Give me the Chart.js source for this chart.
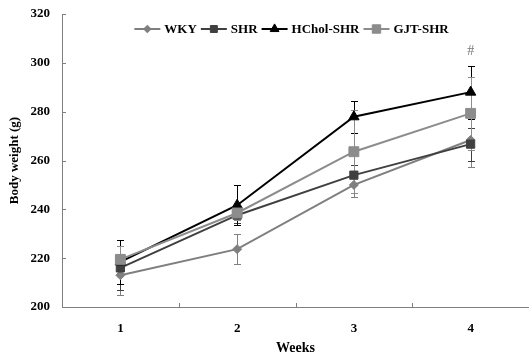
<!DOCTYPE html>
<html>
<head>
<meta charset="utf-8">
<script src="https://cdn.jsdelivr.net/npm/chart.js@4/dist/chart.umd.min.js"></script>
<style>
  html, body { margin: 0; padding: 0; background: #fff; overflow: hidden; }
  #wrap { width: 529px; height: 355px; position: relative; }
  #wrap canvas { display: block; }
</style>
</head>
<body>
<div id="wrap"><canvas id="bw"></canvas></div>
<script>
// body weight (g) per group, mean and SD
const WEEKS = ['1', '2', '3', '4'];
const WKY = [213, 223.7, 250, 268.4];
const WKY_SD = [8, 6, 5, 11];
const SHR = [216, 237.6, 254, 266.7];
const SHR_SD = [9, 3.4, 4, 6.7];
const HCHOL = [218.5, 241.7, 277.9, 288];
const HCHOL_SD = [9, 8.2, 6.6, 10.8];
const GJT = [219.5, 238.5, 263.6, 279.3];
const GJT_SD = [5.5, 3, 17, 15];
const Y_TICKS = [200, 220, 240, 260, 280, 300, 320];

const SERIF = '"Liberation Serif", "Times New Roman", serif';
const AXIS_GREY = '#7f7f7f';

function series(label, data, sd, color, style, radius, order) {
  return {
    label, data, sd, order,
    borderColor: color, backgroundColor: color,
    pointBackgroundColor: color, pointBorderColor: color,
    pointStyle: style, pointRadius: radius, pointBorderWidth: 1,
    borderWidth: 2, tension: 0
  };
}

// no automatic label padding, the plot box is fixed by hand
function noPad(s) {
  s.paddingTop = 0; s.paddingBottom = 0;
  s.paddingLeft = 0; s.paddingRight = 0;
}

// vertical SD bars with caps, under the markers
const errorBars = {
  id: 'errorBars',
  beforeDatasetsDraw(chart) {
    const { ctx } = chart;
    const y = chart.scales.y;
    chart.data.datasets.forEach((ds, i) => {
      const meta = chart.getDatasetMeta(i);
      ctx.save();
      ctx.strokeStyle = ds.borderColor;
      ctx.lineWidth = 1;
      meta.data.forEach((pt, j) => {
        const top = Math.round(y.getPixelForValue(ds.data[j] + ds.sd[j])) + 0.5;
        const bot = Math.round(y.getPixelForValue(ds.data[j] - ds.sd[j])) + 0.5;
        const px = Math.round(pt.x) + 0.5;
        ctx.beginPath();
        ctx.moveTo(px, top); ctx.lineTo(px, bot);
        ctx.moveTo(px - 3.5, top); ctx.lineTo(px + 3.5, top);
        ctx.moveTo(px - 3.5, bot); ctx.lineTo(px + 3.5, bot);
        ctx.stroke();
      });
      ctx.restore();
    });
  }
};

// short tick marks pointing into the plot, like the original
const insideTicks = {
  id: 'insideTicks',
  afterDraw(chart) {
    const { ctx, chartArea: a } = chart;
    const { x, y } = chart.scales;
    ctx.save();
    ctx.strokeStyle = AXIS_GREY;
    ctx.lineWidth = 1;
    ctx.beginPath();
    y.ticks.forEach(t => {
      const py = Math.round(y.getPixelForValue(t.value)) + 0.5;
      ctx.moveTo(a.left, py); ctx.lineTo(a.left + 4, py);
    });
    for (let i = 1; i < WEEKS.length; i++) {
      const px = Math.round((x.getPixelForValue(i - 1) + x.getPixelForValue(i)) / 2) + 0.5;
      ctx.moveTo(px, a.bottom); ctx.lineTo(px, a.bottom - 4);
    }
    ctx.stroke();
    ctx.restore();
  }
};

// legend row drawn inside the top of the plot
const topLegend = {
  id: 'topLegend',
  afterDraw(chart) {
    const { ctx, chartArea: a } = chart;
    ctx.save();
    ctx.font = 'bold 13px ' + SERIF;
    const items = chart.data.datasets.map(ds => ({ ds, w: ctx.measureText(ds.label).width }));
    const total = items.reduce((s, it) => s + 34 + it.w, 0) - 4;
    let lx = (a.left + a.right) / 2 - total / 2 - 4;
    const yc = 29;
    items.forEach(({ ds, w }) => {
      ctx.strokeStyle = ds.borderColor;
      ctx.lineWidth = ds.borderWidth;
      ctx.beginPath();
      ctx.moveTo(lx, yc); ctx.lineTo(lx + 26, yc);
      ctx.stroke();
      ctx.fillStyle = ds.pointBackgroundColor;
      ctx.lineWidth = 1;
      Chart.helpers.drawPoint(ctx, { pointStyle: ds.pointStyle, radius: ds.pointRadius * 0.85, rotation: 0, borderWidth: 1 }, lx + 13, yc);
      ctx.fillStyle = '#000';
      ctx.textAlign = 'left';
      ctx.textBaseline = 'middle';
      ctx.fillText(ds.label, lx + 30, yc + 1);
      lx += 34 + w;
    });
    ctx.restore();
  }
};

// significance mark above HChol-SHR at week 4
const hashMark = {
  id: 'hashMark',
  afterDatasetsDraw(chart) {
    const { ctx } = chart;
    const { x, y } = chart.scales;
    ctx.save();
    ctx.font = '14px ' + SERIF;
    ctx.fillStyle = '#777';
    ctx.textAlign = 'center';
    ctx.textBaseline = 'middle';
    ctx.fillText('#', x.getPixelForValue(3), y.getPixelForValue(HCHOL[3] + HCHOL_SD[3]) - 14);
    ctx.restore();
  }
};

new Chart(document.getElementById('bw'), {
  type: 'line',
  data: {
    labels: WEEKS,
    datasets: [
      series('WKY', WKY, WKY_SD, '#7f7f7f', 'rectRot', 4.5, 4),
      series('SHR', SHR, SHR_SD, '#404040', 'rect', 5.8, 3),
      series('HChol-SHR', HCHOL, HCHOL_SD, '#000000', 'triangle', 6, 2),
      series('GJT-SHR', GJT, GJT_SD, '#8c8c8c', 'rect', 7, 1)
    ]
  },
  options: {
    responsive: true,
    maintainAspectRatio: false,
    animation: false,
    layout: { autoPadding: false, padding: { top: 14, right: 0, bottom: 0, left: 0 } },
    plugins: { legend: { display: false }, tooltip: { enabled: false } },
    scales: {
      x: {
        offset: true,
        grid: { display: false, drawTicks: false },
        border: { color: AXIS_GREY, width: 1 },
        ticks: { color: '#000', padding: 14, font: { family: SERIF, size: 13, weight: 'bold' } },
        title: { display: true, text: 'Weeks', color: '#000', padding: { top: 0, bottom: -2 }, font: { family: SERIF, size: 14, weight: 'bold' } },
        afterFit(s) { s.height = 48; noPad(s); }
      },
      y: {
        min: 200, max: 320,
        afterBuildTicks(s) { s.ticks = Y_TICKS.map(v => ({ value: v })); },
        grid: { display: false, drawTicks: false },
        border: { color: AXIS_GREY, width: 1 },
        ticks: { color: '#000', padding: 12, font: { family: SERIF, size: 13, weight: 'bold' } },
        title: { display: true, text: 'Body weight (g)', color: '#000', padding: { top: 7, bottom: 0 }, font: { family: SERIF, size: 13, weight: 'bold' } },
        afterFit(s) { s.width = 62; noPad(s); }
      }
    }
  },
  plugins: [errorBars, insideTicks, topLegend, hashMark]
});
</script>
</body>
</html>
